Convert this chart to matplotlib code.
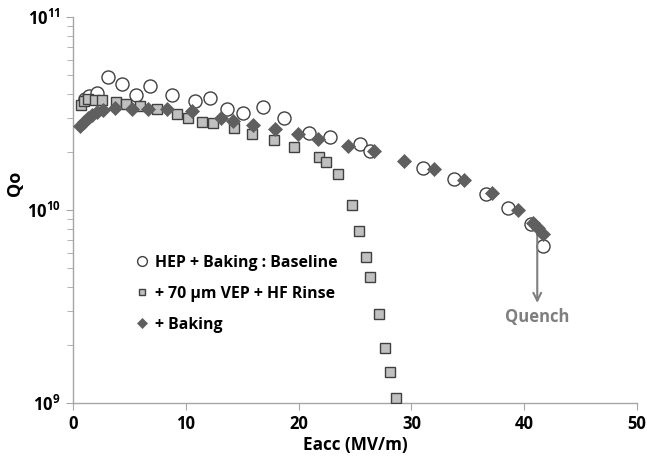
import matplotlib
matplotlib.use("Agg")
import matplotlib.pyplot as plt
from matplotlib.ticker import FixedLocator, FixedFormatter, LogLocator, NullFormatter

plt.rcParams["font.family"] = ["Open Sans", "DejaVu Sans"]
plt.rcParams["font.weight"] = "bold"
plt.rcParams["mathtext.fontset"] = "custom"
plt.rcParams["mathtext.rm"] = "Open Sans:bold"
plt.rcParams["mathtext.bf"] = "Open Sans:bold"

# HEP + Baking : Baseline
base_x = [1.06, 1.42, 2.15, 3.13, 4.37, 5.59, 6.83, 8.75, 10.82, 12.15, 13.63,
          15.04, 16.82, 18.71, 20.90, 22.78, 25.44, 26.33, 31.06, 33.80, 36.61,
          38.54, 40.60, 41.69]
base_q = [3.76e10, 3.90e10, 4.05e10, 4.87e10, 4.48e10, 3.95e10, 4.39e10, 3.95e10,
          3.67e10, 3.80e10, 3.33e10, 3.17e10, 3.40e10, 2.99e10, 2.51e10, 2.40e10,
          2.19e10, 2.03e10, 1.66e10, 1.44e10, 1.21e10, 1.03e10, 8.45e9, 6.50e9]

# + 70 um VEP + HF Rinse
vep_x = [0.68, 0.98, 1.29, 1.95, 2.54, 3.79, 4.74, 5.91, 7.42, 9.19, 10.22, 11.41,
         12.44, 14.27, 15.84, 17.84, 19.59, 21.78, 22.40, 23.52, 24.71, 25.35,
         25.95, 26.33, 27.13, 27.66, 28.10, 28.61]
vep_q = [3.52e10, 3.67e10, 3.76e10, 3.72e10, 3.72e10, 3.64e10, 3.53e10, 3.46e10,
         3.33e10, 3.16e10, 3.01e10, 2.87e10, 2.81e10, 2.65e10, 2.48e10, 2.31e10,
         2.13e10, 1.89e10, 1.77e10, 1.54e10, 1.06e10, 7.76e9, 5.69e9, 4.51e9,
         2.88e9, 1.92e9, 1.44e9, 1.06e9]

# + Baking
bake_x = [0.62, 0.98, 1.33, 1.68, 2.13, 2.69, 3.72, 5.20, 6.68, 8.36, 10.52, 13.12,
          14.21, 15.98, 17.91, 19.97, 21.75, 24.41, 26.68, 29.34, 32.03, 34.66,
          37.12, 39.48, 40.80, 41.20, 41.69]
bake_q = [2.72e10, 2.86e10, 3.00e10, 3.10e10, 3.22e10, 3.30e10, 3.39e10, 3.34e10,
          3.32e10, 3.34e10, 3.26e10, 2.99e10, 2.90e10, 2.76e10, 2.62e10, 2.48e10,
          2.32e10, 2.15e10, 2.01e10, 1.80e10, 1.63e10, 1.43e10, 1.22e10, 1.00e10,
          8.60e9, 8.10e9, 7.52e9]

quench_x = 41.16
quench_from = 7.87e9
quench_to = 3.30e9

x_ticks = [0, 10, 20, 30, 40, 50]
y_ticks = [1e9, 1e10, 1e11]
y_labels = [r"$\mathbf{10^{9}}$", r"$\mathbf{10^{10}}$", r"$\mathbf{10^{11}}$"]

axis_grey = "#a6a6a6"
edge = "#404040"

fig = plt.figure(figsize=(6.47, 4.58), dpi=100)
ax = fig.add_axes([0.1128, 0.1201, 0.8717, 0.8428])

ax.plot(base_x, base_q, "o", ms=9.4, mfc="white", mec=edge, mew=1.0,
        label="HEP + Baking : Baseline", zorder=3)
ax.plot(vep_x, vep_q, "s", ms=6.5, mfc="#c0c0c0", mec=edge, mew=1.0,
        label="+ 70 µm VEP + HF Rinse", zorder=4)
ax.plot(bake_x, bake_q, "D", ms=7.2, mfc="#5f5f5f", mec="#5f5f5f", mew=0.5,
        label="+ Baking", zorder=5)

ax.annotate("", xy=(quench_x, quench_to), xytext=(quench_x, quench_from),
            arrowprops=dict(arrowstyle="->", color="#7f7f7f", lw=1.5,
                            shrinkA=0, shrinkB=0, mutation_scale=14))
ax.text(quench_x, 2.79e9, "Quench", color="#7f7f7f", fontsize=12,
        fontweight="bold", ha="center", va="center")

ax.set_yscale("log")
ax.set_xlim(0, 50)
ax.set_ylim(1e9, 1e11)
ax.xaxis.set_major_locator(FixedLocator(x_ticks))
ax.yaxis.set_major_locator(FixedLocator(y_ticks))
ax.yaxis.set_major_formatter(FixedFormatter(y_labels))
ax.yaxis.set_minor_locator(LogLocator(base=10, subs=range(2, 10)))
ax.yaxis.set_minor_formatter(NullFormatter())

for side in ["top", "right"]:
    ax.spines[side].set_visible(False)
for side in ["left", "bottom"]:
    ax.spines[side].set_color(axis_grey)
    ax.spines[side].set_linewidth(1.0)

ax.tick_params(axis="both", which="both", color=axis_grey, direction="out")
ax.tick_params(axis="both", which="major", length=5, labelsize=12, pad=4)
ax.tick_params(axis="y", which="minor", length=4)

ax.set_xlabel("Eacc (MV/m)", fontsize=12.3, fontweight="bold")
ax.set_ylabel("Qo", fontsize=13, fontweight="bold")
ax.yaxis.set_label_coords(-0.087, 0.57)
ax.xaxis.set_label_coords(0.5, -0.085)

ax.legend(loc="upper left", bbox_to_anchor=(0.1, 0.405), frameon=False,
          fontsize=11.4, markerscale=0.75, handlelength=0.6, handletextpad=0.5,
          labelspacing=0.95, borderpad=0)

fig.savefig("out.png", dpi=100)
